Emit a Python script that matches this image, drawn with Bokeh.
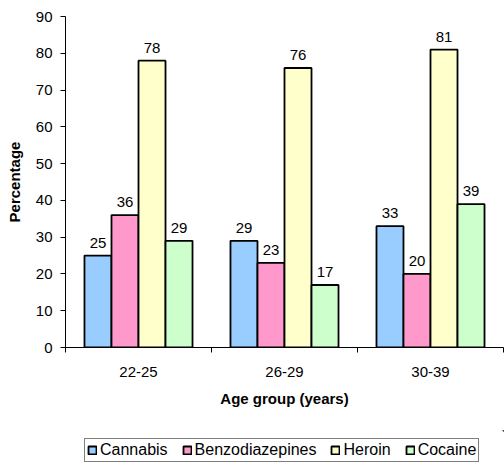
from bokeh.plotting import figure
from bokeh.layouts import column
from bokeh.models import (ColumnDataSource, FixedTicker, Legend, LegendItem, Range1d)
from bokeh.core.properties import value
from bokeh.embed import file_html
from bokeh.resources import INLINE

categories = ["22-25", "26-29", "30-39"]
series = ["Cannabis", "Benzodiazepines", "Heroin", "Cocaine"]
cannabis = [25, 29, 33]
benzodiazepines = [36, 23, 20]
heroin = [78, 76, 81]
cocaine = [29, 17, 39]
colors = ["#99CCFF", "#FF99CC", "#FFFFCC", "#CCFFCC"]
y_ticks = [0, 10, 20, 30, 40, 50, 60, 70, 80, 90]

FONT = "Liberation Sans"
FS = "15px"

p = figure(width=504, height=430, output_backend="svg", toolbar_location=None,
           x_range=Range1d(0, 3), y_range=Range1d(0, 90),
           min_border_left=65, min_border_right=1, min_border_top=16,
           min_border_bottom=83)
p.outline_line_color = None
p.xgrid.grid_line_color = None
p.ygrid.grid_line_color = None
p.background_fill_color = "white"
p.border_fill_color = "white"

bar_w = 0.185
offsets = [-1.5 * bar_w, -0.5 * bar_w, 0.5 * bar_w, 1.5 * bar_w]
all_vals = [cannabis, benzodiazepines, heroin, cocaine]

for k, (name, vals, col) in enumerate(zip(series, all_vals, colors)):
    xs = [i + 0.5 + offsets[k] for i in range(len(categories))]
    src = ColumnDataSource(dict(x=xs, top=vals, lab=[str(v) for v in vals]))
    p.vbar(x="x", top="top", width=bar_w, bottom=0, source=src,
           fill_color=col, line_color="black", line_width=1.8)
    p.text(x="x", y="top", text="lab", source=src, text_align="center",
           text_baseline="alphabetic", y_offset=-13,
           text_font=value(FONT), text_font_size=FS, text_color="black")

# axes
xa = p.xaxis[0]
xa.ticker = FixedTicker(ticks=[0.5, 1.5, 2.5], minor_ticks=[0, 1, 2, 3])
xa.major_label_overrides = {0.5: categories[0], 1.5: categories[1], 2.5: categories[2]}
xa.major_tick_out = 0
xa.major_tick_in = 0
xa.minor_tick_out = 5
xa.minor_tick_in = 0
xa.minor_tick_line_color = "black"
xa.axis_line_color = "black"
xa.major_label_standoff = 14
xa.major_label_text_font = FONT
xa.major_label_text_font_size = FS
xa.major_label_text_color = "black"
xa.axis_label = "Age group (years)"
xa.axis_label_text_font = FONT
xa.axis_label_text_font_size = FS
xa.axis_label_text_font_style = "bold"
xa.axis_label_text_color = "black"
xa.axis_label_standoff = 10

ya = p.yaxis[0]
ya.ticker = FixedTicker(ticks=y_ticks, minor_ticks=[])
ya.major_tick_out = 5
ya.major_tick_in = 0
ya.major_tick_line_color = "black"
ya.axis_line_color = "black"
ya.major_label_standoff = 8
ya.major_label_text_font = FONT
ya.major_label_text_font_size = FS
ya.major_label_text_color = "black"
ya.axis_label = "Percentage"
ya.axis_label_text_font = FONT
ya.axis_label_text_font_size = FS
ya.axis_label_text_font_style = "bold"
ya.axis_label_text_color = "black"
ya.axis_label_standoff = 10

# legend strip below the chart (its frame is aligned with the chart's frame)
p2 = figure(width=504, height=34, output_backend="svg", toolbar_location=None,
            x_range=Range1d(0, 1), y_range=Range1d(0, 1),
            x_axis_type=None, y_axis_type=None,
            min_border_left=65, min_border_right=1, min_border_top=0,
            min_border_bottom=0)
p2.outline_line_color = None
p2.xgrid.grid_line_color = None
p2.ygrid.grid_line_color = None
items = []
for name, col in zip(series, colors):
    # keyed swatch only: the bar sits outside this strip's visible range
    r = p2.vbar(x=[5], top=[5], bottom=[4], width=0.1, fill_color=col,
                line_color="black", line_width=1.8)
    items.append(LegendItem(label=name, renderers=[r]))

legend = Legend(items=items, orientation="horizontal", location=(19, 2),
                glyph_width=10, glyph_height=10, label_standoff=3, spacing=14,
                padding=2, margin=0,
                label_text_font=FONT, label_text_font_size="16px",
                label_text_color="black", label_height=12,
                border_line_color="black", border_line_width=1,
                background_fill_color="white")
p2.add_layout(legend)

layout = column(p, p2, spacing=0)
open("out.html", "w").write(file_html(layout, INLINE))
